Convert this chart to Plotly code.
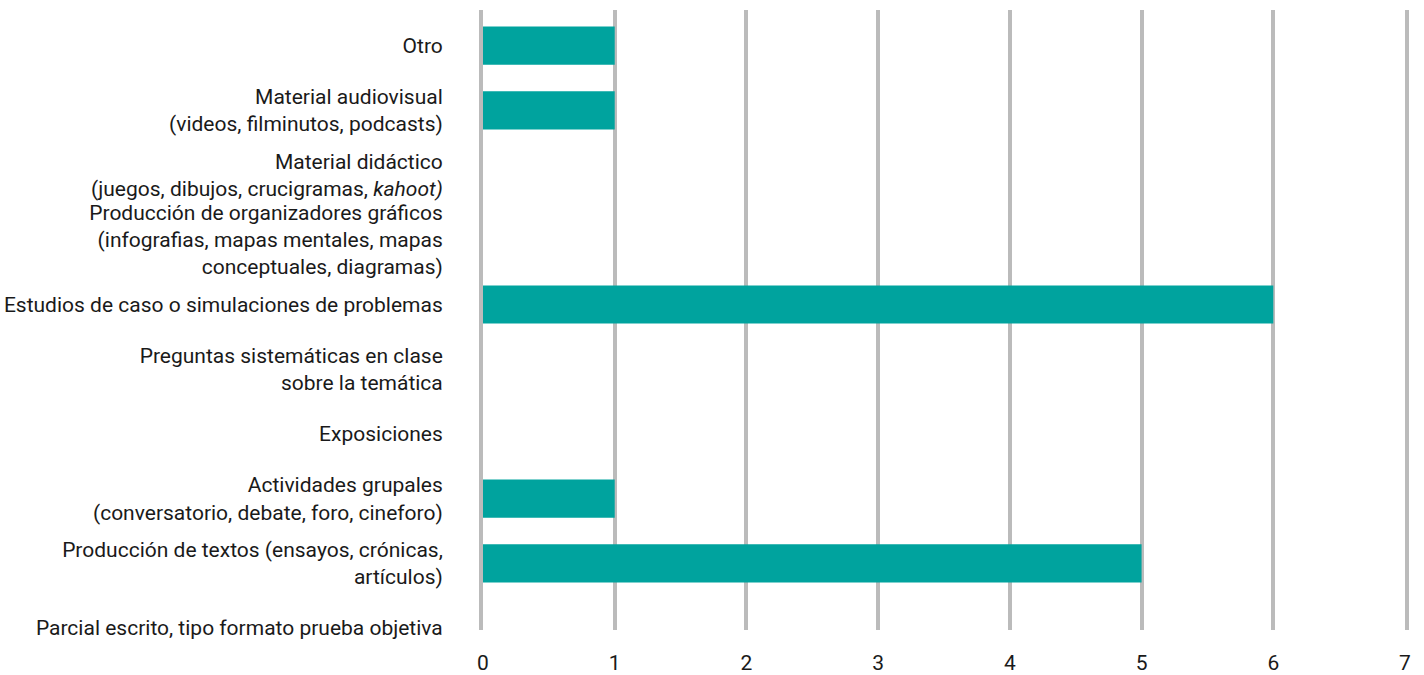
import plotly.graph_objects as go

# Categories listed from top to bottom of the chart
categories = [
    "Otro",
    "Material audiovisual",
    "Material didáctico",
    "Producción de organizadores gráficos",
    "Estudios de caso o simulaciones de problemas",
    "Preguntas sistemáticas en clase",
    "Exposiciones",
    "Actividades grupales",
    "Producción de textos",
    "Parcial escrito, tipo formato prueba objetiva",
]

tick_labels = [
    "Otro",
    "Material audiovisual<br>(videos, filminutos, podcasts)",
    "Material didáctico<br>(juegos, dibujos, crucigramas, <i>kahoot)</i>",
    "Producción de organizadores gráficos<br>(infografias, mapas mentales, mapas<br>conceptuales, diagramas)",
    "Estudios de caso o simulaciones de problemas",
    "Preguntas sistemáticas en clase<br>sobre la temática",
    "Exposiciones",
    "Actividades grupales<br>(conversatorio, debate, foro, cineforo)",
    "Producción de textos (ensayos, crónicas,<br>artículos)",
    "Parcial escrito, tipo formato prueba objetiva",
]

values = [1, 1, 0, 0, 6, 0, 0, 1, 5, 0]

x_ticks = [0, 1, 2, 3, 4, 5, 6, 7]

BAR = "#00A39E"
GRID = "#BBBBBB"
TEXT = "#1A1A1A"
FONT = "Roboto"
SIZE = 21

fig = go.Figure(
    go.Bar(
        x=values,
        y=categories,
        orientation="h",
        width=0.59,
        marker=dict(color=BAR, line=dict(width=0)),
        hoverinfo="x+y",
    )
)

fig.update_layout(
    width=1424,
    height=675,
    margin=dict(l=483, r=19, t=10, b=45),
    paper_bgcolor="white",
    plot_bgcolor="white",
    showlegend=False,
    font=dict(family=FONT, size=SIZE, color=TEXT),
)

fig.update_xaxes(
    range=[0, 7],
    tickvals=x_ticks,
    ticktext=[str(v) for v in x_ticks],
    showgrid=True,
    gridcolor=GRID,
    gridwidth=4,
    zeroline=False,
    showline=False,
    automargin=False,
    ticks="outside",
    ticklen=14,
    tickcolor="rgba(0,0,0,0)",
    tickfont=dict(family=FONT, size=SIZE, color=TEXT),
)

# The vertical lines at 0 and 7 are drawn as the y axis line and its mirror
fig.update_yaxes(
    type="category",
    categoryorder="array",
    categoryarray=categories,
    tickvals=categories,
    ticktext=tick_labels,
    range=[9.03, -0.55],
    showgrid=False,
    zeroline=False,
    showline=True,
    mirror=True,
    linecolor=GRID,
    linewidth=4,
    layer="above traces",
    automargin=False,
    ticks="outside",
    ticklen=32,
    tickcolor="rgba(0,0,0,0)",
    tickfont=dict(family=FONT, size=SIZE, color=TEXT),
)

fig.write_html("out.html")
